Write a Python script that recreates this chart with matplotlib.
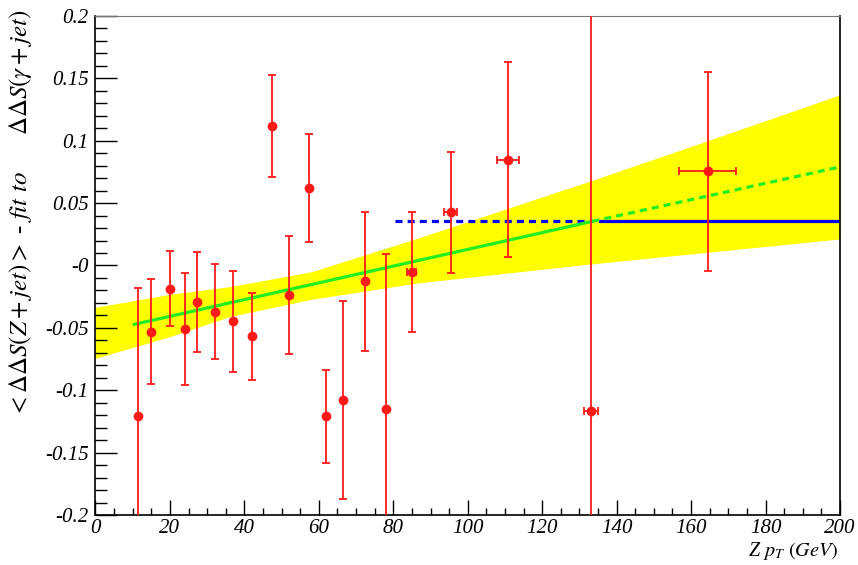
import matplotlib
matplotlib.use("Agg")
import matplotlib.pyplot as plt
from matplotlib.ticker import MultipleLocator, FixedLocator

plt.rcParams['font.family'] = ['Liberation Serif', 'DejaVu Serif']
plt.rcParams['mathtext.fontset'] = 'stix'
plt.rcParams['axes.unicode_minus'] = False

# measured points: Z pT bin centre, difference to gamma+jet fit, errors
zpt = [11.4, 15.0, 20.1, 24.0, 27.4, 32.2, 36.9, 42.0, 47.5, 51.9,
       57.3, 61.9, 66.6, 72.5, 78.0, 84.9, 95.4, 110.8, 133.1, 164.5]
diff = [-0.1205, -0.0531, -0.0186, -0.0509, -0.0293, -0.0370, -0.0448, -0.0568, 0.1120, -0.0234,
        0.0621, -0.1210, -0.1076, -0.0127, -0.1150, -0.0052, 0.0427, 0.0849, -0.1170, 0.0755]
diff_err = [0.1025, 0.0420, 0.0300, 0.0447, 0.0400, 0.0380, 0.0405, 0.0350, 0.0410, 0.0473,
            0.0430, 0.0375, 0.0795, 0.0556, 0.1240, 0.0480, 0.0484, 0.0780, 0.3300, 0.0800]
zpt_err = [0, 0, 0, 0, 0, 0, 0, 0, 0, 0,
           0, 0, 0, 0, 0, 1.2, 1.75, 3.0, 1.8, 7.7]

# linear fit (solid over fit range, dashed extrapolation)
fit_x = [10.4, 133.5]
fit_y = [-0.0472, 0.0354]
extrap_x = [133.5, 200.0]
extrap_y = [0.0354, 0.0790]

# fit uncertainty band
band_x = [0, 20, 36, 58, 87, 133, 165, 200]
band_lo = [-0.0744, -0.0570, -0.0410, -0.0271, -0.0138, 0.0012, 0.0108, 0.0213]
band_hi = [-0.0335, -0.0231, -0.0170, -0.0050, 0.0223, 0.0678, 0.1006, 0.1368]

# constant level beyond the last point
const_dash_x = [80.5, 133.5]
const_solid_x = [135.5, 200.0]
const_level = 0.0354

ytick_vals = [-0.2, -0.15, -0.1, -0.05, 0.0, 0.05, 0.1, 0.15, 0.2]
ytick_labels = ['-0.2', '-0.15', '-0.1', '-0.05', '-0', '0.05', '0.1', '0.15', '0.2']
xtick_vals = [0, 20, 40, 60, 80, 100, 120, 140, 160, 180, 200]

fig = plt.figure(figsize=(8.58, 5.65), dpi=100)
ax = fig.add_axes([0.1113, 0.0885, 0.8677, 0.8832])

ax.fill_between(band_x, band_lo, band_hi, color='#ffff00', linewidth=0, zorder=1)
ax.plot(fit_x, fit_y, color='#22ee22', linewidth=2.3, zorder=3)
ax.plot(extrap_x, extrap_y, color='#22ee22', linewidth=2.3, linestyle=(0, (2.2, 1.6)), zorder=3)
ax.plot(const_dash_x, [const_level, const_level], color='#0000ee', linewidth=2.3,
        linestyle=(0, (2.2, 1.6)), zorder=2)
ax.plot(const_solid_x, [const_level, const_level], color='#0000ee', linewidth=2.3, zorder=2)

ax.errorbar(zpt, diff, yerr=diff_err, xerr=zpt_err, fmt='o', color='#ff1a1a',
            markersize=6, elinewidth=1.3, capsize=3, capthick=1.3, zorder=4)

ax.set_xlim(0, 200)
ax.set_ylim(-0.2, 0.2)

ax.xaxis.set_major_locator(FixedLocator(xtick_vals))
ax.xaxis.set_minor_locator(MultipleLocator(5))
ax.yaxis.set_major_locator(FixedLocator(ytick_vals))
ax.yaxis.set_minor_locator(MultipleLocator(0.01))
ax.set_yticklabels(ytick_labels)

ax.tick_params(axis='both', which='both', direction='in', top=False, right=False, width=1)
ax.tick_params(axis='y', which='major', length=16, labelsize=15, pad=5)
ax.tick_params(axis='y', which='minor', length=8.5)
ax.tick_params(axis='x', which='major', length=11, labelsize=15, pad=3)
ax.tick_params(axis='x', which='minor', length=5)
for lab in ax.get_xticklabels() + ax.get_yticklabels():
    lab.set_fontstyle('italic')

for side in ['left', 'bottom', 'right']:
    ax.spines[side].set_linewidth(1.2)
ax.spines['top'].set_linewidth(0.8)
ax.spines['top'].set_color('#777777')

ylab = (r"$<\Delta\Delta S(Z+jet)>$ - $fit$ $to$" + "      " + r"$\Delta\Delta S(\gamma+jet)$")
fig.text(21 / 858, 1 - 9 / 565, ylab, rotation=90, ha='center', va='top', fontsize=18)
fig.text(838 / 858, 1 - 556 / 565, r"Z $p_T$ $(GeV)$", ha='right', va='baseline',
         fontsize=14.5, fontstyle='italic')

fig.savefig('out.png', dpi=100)
